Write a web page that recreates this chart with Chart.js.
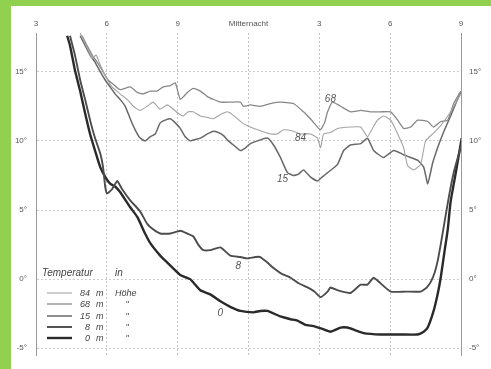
<!DOCTYPE html>
<html><head><meta charset="utf-8">
<script src="https://cdn.jsdelivr.net/npm/chart.js@4"></script>
<style>html,body{margin:0;padding:0;background:#fff;}canvas{display:block}</style>
</head><body>
<canvas id="c" width="491" height="369"></canvas>
<script>
// Hours after 15:00 (3 pm) and temperatures (°C)
const h0 = [1.32,1.44,1.65,1.87,2.08,2.29,2.50,2.72,2.93,3.14,3.35,3.56,3.99,4.29,4.62,4.84,5.26,5.56,6.11,6.53,6.96,7.38,7.81,8.23,8.66,9.21,9.50,9.80,10.35,10.78,11.07,11.41,11.75,12.13,12.47,12.90,13.19,13.53,13.87,14.59,15.44,16.16,16.42,16.59,16.84,17.01,17.14,17.31,17.44,17.56,17.78,18.03];
const t0 = [17.6,16.9,15.1,13.6,12.0,10.5,9.3,8.1,7.4,6.9,6.7,6.3,5.2,4.5,3.3,2.6,1.7,1.2,0.3,0.0,-0.8,-1.1,-1.6,-2.0,-2.3,-2.4,-2.3,-2.3,-2.7,-2.9,-3.0,-3.3,-3.4,-3.6,-3.8,-3.5,-3.5,-3.7,-3.9,-4.0,-4.0,-4.0,-3.8,-3.5,-2.3,-1.1,0.1,2.1,3.6,5.6,7.7,10.2];
const h8 = [1.44,1.65,1.87,2.08,2.29,2.50,2.72,2.84,2.93,3.01,3.22,3.44,3.65,3.99,4.41,4.71,4.96,5.26,5.69,6.11,6.41,6.66,6.87,7.09,7.38,7.81,8.23,8.66,8.95,9.29,9.50,9.80,10.06,10.39,10.78,11.12,11.50,11.79,12.05,12.35,12.47,12.77,13.32,13.75,14.04,14.30,14.59,15.02,15.66,16.29,16.55,16.72,16.89,17.01,17.14,17.27,17.48,17.69,18.03];
const t8 = [17.6,16.2,14.4,13.0,11.5,10.2,9.1,8.1,6.7,6.2,6.5,7.1,6.5,5.7,4.9,4.0,3.6,3.3,3.3,3.5,3.3,3.1,2.5,2.1,2.1,2.3,1.7,1.6,1.5,1.6,1.6,1.2,0.8,0.4,0.1,-0.3,-0.6,-0.9,-1.3,-0.9,-0.6,-0.8,-1.0,-0.4,-0.4,0.1,-0.3,-0.9,-0.9,-0.9,-0.6,-0.2,0.5,1.3,2.5,3.8,5.9,7.7,9.8];
const h15 = [1.87,2.08,2.29,2.50,2.72,2.93,3.14,3.35,3.56,3.78,3.99,4.20,4.41,4.62,4.84,5.05,5.26,5.47,5.69,5.90,6.11,6.32,6.53,6.75,6.96,7.26,7.51,7.72,7.93,8.15,8.36,8.66,8.87,9.08,9.38,9.80,10.06,10.35,10.65,10.90,11.12,11.33,11.62,11.92,12.13,12.35,12.77,13.03,13.32,13.75,14.04,14.30,14.72,15.15,15.57,15.87,16.16,16.42,16.59,16.80,17.01,17.23,17.56,17.78,17.99];
const t15 = [17.6,16.9,16.2,15.7,15.0,14.4,13.9,13.4,13.0,12.5,11.6,10.8,10.2,10.0,10.3,10.5,11.3,11.5,11.6,11.3,10.9,10.3,10.0,10.1,10.2,10.5,10.7,10.6,10.4,10.0,9.7,9.3,9.5,9.8,10.0,10.2,9.7,8.8,7.7,7.5,7.6,7.9,7.4,7.1,7.4,7.7,8.3,9.3,9.7,9.8,10.2,9.3,8.8,9.3,9.0,8.8,8.6,8.1,6.9,8.4,9.5,10.5,11.8,12.7,13.5];
const h68 = [1.95,2.16,2.38,2.59,2.84,3.05,3.27,3.56,3.99,4.29,4.54,4.84,5.13,5.39,5.69,5.90,6.11,6.41,6.66,6.96,7.26,7.51,7.81,8.23,8.66,8.78,9.08,9.50,9.93,10.35,10.90,11.33,11.62,11.92,12.05,12.22,12.35,12.56,12.90,13.32,13.75,14.17,14.59,15.02,15.32,15.57,15.87,16.16,16.59,16.84,17.14,17.44,17.69,17.99];
const t68 = [17.6,16.9,16.2,15.7,15.0,14.4,14.1,13.7,13.9,13.5,13.4,13.6,13.6,13.9,14.0,14.2,13.0,13.5,13.8,13.6,13.2,13.0,12.8,12.8,12.8,12.5,12.6,12.5,12.7,12.8,12.7,12.1,11.6,11.0,10.8,11.3,12.1,12.8,12.5,12.1,12.2,12.1,12.1,12.1,11.5,10.9,11.0,11.5,11.4,11.0,11.4,11.5,12.7,13.6];
const h84 = [1.87,2.12,2.38,2.55,2.72,2.97,3.22,3.56,3.86,4.12,4.41,4.71,4.96,5.26,5.56,5.81,6.02,6.24,6.45,6.66,6.96,7.26,7.51,7.81,8.10,8.32,8.53,8.74,8.95,9.38,9.93,10.22,10.48,10.90,11.20,11.62,11.92,12.05,12.18,12.47,12.77,13.32,13.75,14.04,14.25,14.46,14.72,15.02,15.32,15.57,15.74,16.00,16.29,16.50,16.80,17.14,17.56,17.99];
const t84 = [17.8,16.9,16.0,16.2,15.5,14.6,13.9,13.4,13.0,12.5,12.2,12.5,12.8,12.3,12.6,12.3,12.0,11.8,12.1,12.1,11.8,11.7,11.6,11.9,12.1,11.9,11.6,11.3,11.1,10.8,10.5,10.5,10.8,10.7,10.5,10.5,10.2,9.5,10.5,10.6,10.9,11.0,11.0,10.3,10.9,11.5,11.8,11.5,10.5,9.5,8.2,7.9,8.3,10.0,10.5,11.1,12.1,13.4];

const xTicks = [0,3,6,9,12,15,18];
const xTickLabels = ['3','6','9','Mitternacht','3','6','9'];
const yTicks = [-5,0,5,10,15];
const yTickLabels = ['-5°','0°','5°','10°','15°'];

const seriesNames = ['84','68','15','8','0'];
const seriesColors = ['#a4a4a4','#888888','#686868','#4c4c4c','#2a2a2a'];
const seriesWidths = [1.1,1.3,1.5,1.9,2.4];
const seriesH = [h84,h68,h15,h8,h0];
const seriesT = [t84,t68,t15,t8,t0];

// curve labels: [text, hour, temp]
const curveLabelText = ['68','84','15','8','0'];
const curveLabelH = [12.47,11.2,10.44,8.57,7.81];
const curveLabelT = [13.0,10.2,7.2,0.9,-2.5];

const legendHeader = ['Temperatur','in'];
const legendUnit = 'm';
const legendFirstSuffix = 'Höhe';
const legendDitto = '"';

const zip = (a,b)=>a.map((v,i)=>({x:v,y:b[i]}));

const bgPlugin = {
  id:'bg',
  beforeDraw(chart){
    const ctx = chart.ctx;
    ctx.save();
    ctx.fillStyle='#fff'; ctx.fillRect(0,0,chart.width,chart.height);
    ctx.fillStyle='#92d050';
    ctx.fillRect(0,0,chart.width,6);
    ctx.fillRect(0,0,11,chart.height);
    ctx.restore();
  }
};

const labelPlugin = {
  id:'labels',
  afterDatasetsDraw(chart){
    const ctx = chart.ctx, xs = chart.scales.x, ys = chart.scales.y;
    ctx.save();
    ctx.fillStyle='#555';
    ctx.font='italic 10px "Liberation Sans", sans-serif';
    ctx.textAlign='center'; ctx.textBaseline='middle';
    curveLabelText.forEach((t,i)=>{
      ctx.fillText(t, xs.getPixelForValue(curveLabelH[i]), ys.getPixelForValue(curveLabelT[i]));
    });
    // legend
    ctx.fillStyle='#444';
    ctx.font='italic 10px "Liberation Sans", sans-serif';
    ctx.textAlign='left';
    ctx.fillText(legendHeader[0], 42, 273);
    ctx.fillText(legendHeader[1], 115, 273);
    ctx.font='italic 9px "Liberation Sans", sans-serif';
    const rowsY = [293,304,316,327,338];
    seriesNames.forEach((n,i)=>{
      const y = rowsY[i];
      ctx.strokeStyle = seriesColors[i];
      ctx.lineWidth = seriesWidths[i];
      ctx.beginPath(); ctx.moveTo(47,y); ctx.lineTo(72,y); ctx.stroke();
      ctx.textAlign='right';
      ctx.fillText(n, 90, y);
      ctx.textAlign='left';
      ctx.fillText(legendUnit, 96, y);
      if(i===0) ctx.fillText(legendFirstSuffix, 115, y);
      else { ctx.textAlign='center'; ctx.fillText(legendDitto, 127, y); }
    });
    ctx.restore();
  }
};

new Chart(document.getElementById('c'), {
  type:'line',
  data:{
    datasets: seriesNames.map((n,i)=>({
      label: n+' m Höhe',
      data: zip(seriesH[i], seriesT[i]),
      borderColor: seriesColors[i],
      borderWidth: seriesWidths[i],
      pointRadius:0,
      tension:0.15,
      fill:false,
      yAxisID:'y'
    }))
  },
  options:{
    responsive:false,
    animation:false,
    devicePixelRatio:1,
    layout:{padding:{left:0,right:0,top:0,bottom:7}},
    plugins:{legend:{display:false},tooltip:{enabled:false}},
    scales:{
      x:{
        type:'linear', position:'top', min:0, max:18,
        afterBuildTicks:s=>{s.ticks = xTicks.map(v=>({value:v}));},
        afterFit:s=>{s.height=33;},
        ticks:{
          callback:(v)=>xTickLabels[xTicks.indexOf(v)],
          font:{size:8, family:'"Liberation Sans", sans-serif'},
          color:'#555', padding:4, maxRotation:0, autoSkip:false
        },
        grid:{color:'#c4c4c4', drawTicks:false, lineWidth:1},
        border:{display:false, dash:[2,2]}
      },
      y:{
        type:'linear', position:'left', min:-5.5, max:17.8,
        afterBuildTicks:s=>{s.ticks = yTicks.map(v=>({value:v}));},
        afterFit:s=>{s.width=36;},
        ticks:{callback:(v)=>yTickLabels[yTicks.indexOf(v)], font:{size:8, family:'"Liberation Sans", sans-serif'}, color:'#555', padding:9},
        grid:{color:'#cccccc', drawTicks:false, lineWidth:1},
        border:{display:true, color:'#9a9a9a', width:1, dash:[2,2]}
      },
      y2:{
        type:'linear', position:'right', min:-5.5, max:17.8,
        afterBuildTicks:s=>{s.ticks = yTicks.map(v=>({value:v}));},
        afterFit:s=>{s.width=30;},
        ticks:{callback:(v)=>yTickLabels[yTicks.indexOf(v)], font:{size:8, family:'"Liberation Sans", sans-serif'}, color:'#555', padding:8},
        grid:{display:false, drawTicks:false},
        border:{display:true, color:'#9a9a9a', width:1}
      }
    }
  },
  plugins:[bgPlugin,labelPlugin]
});
</script>
</body></html>
